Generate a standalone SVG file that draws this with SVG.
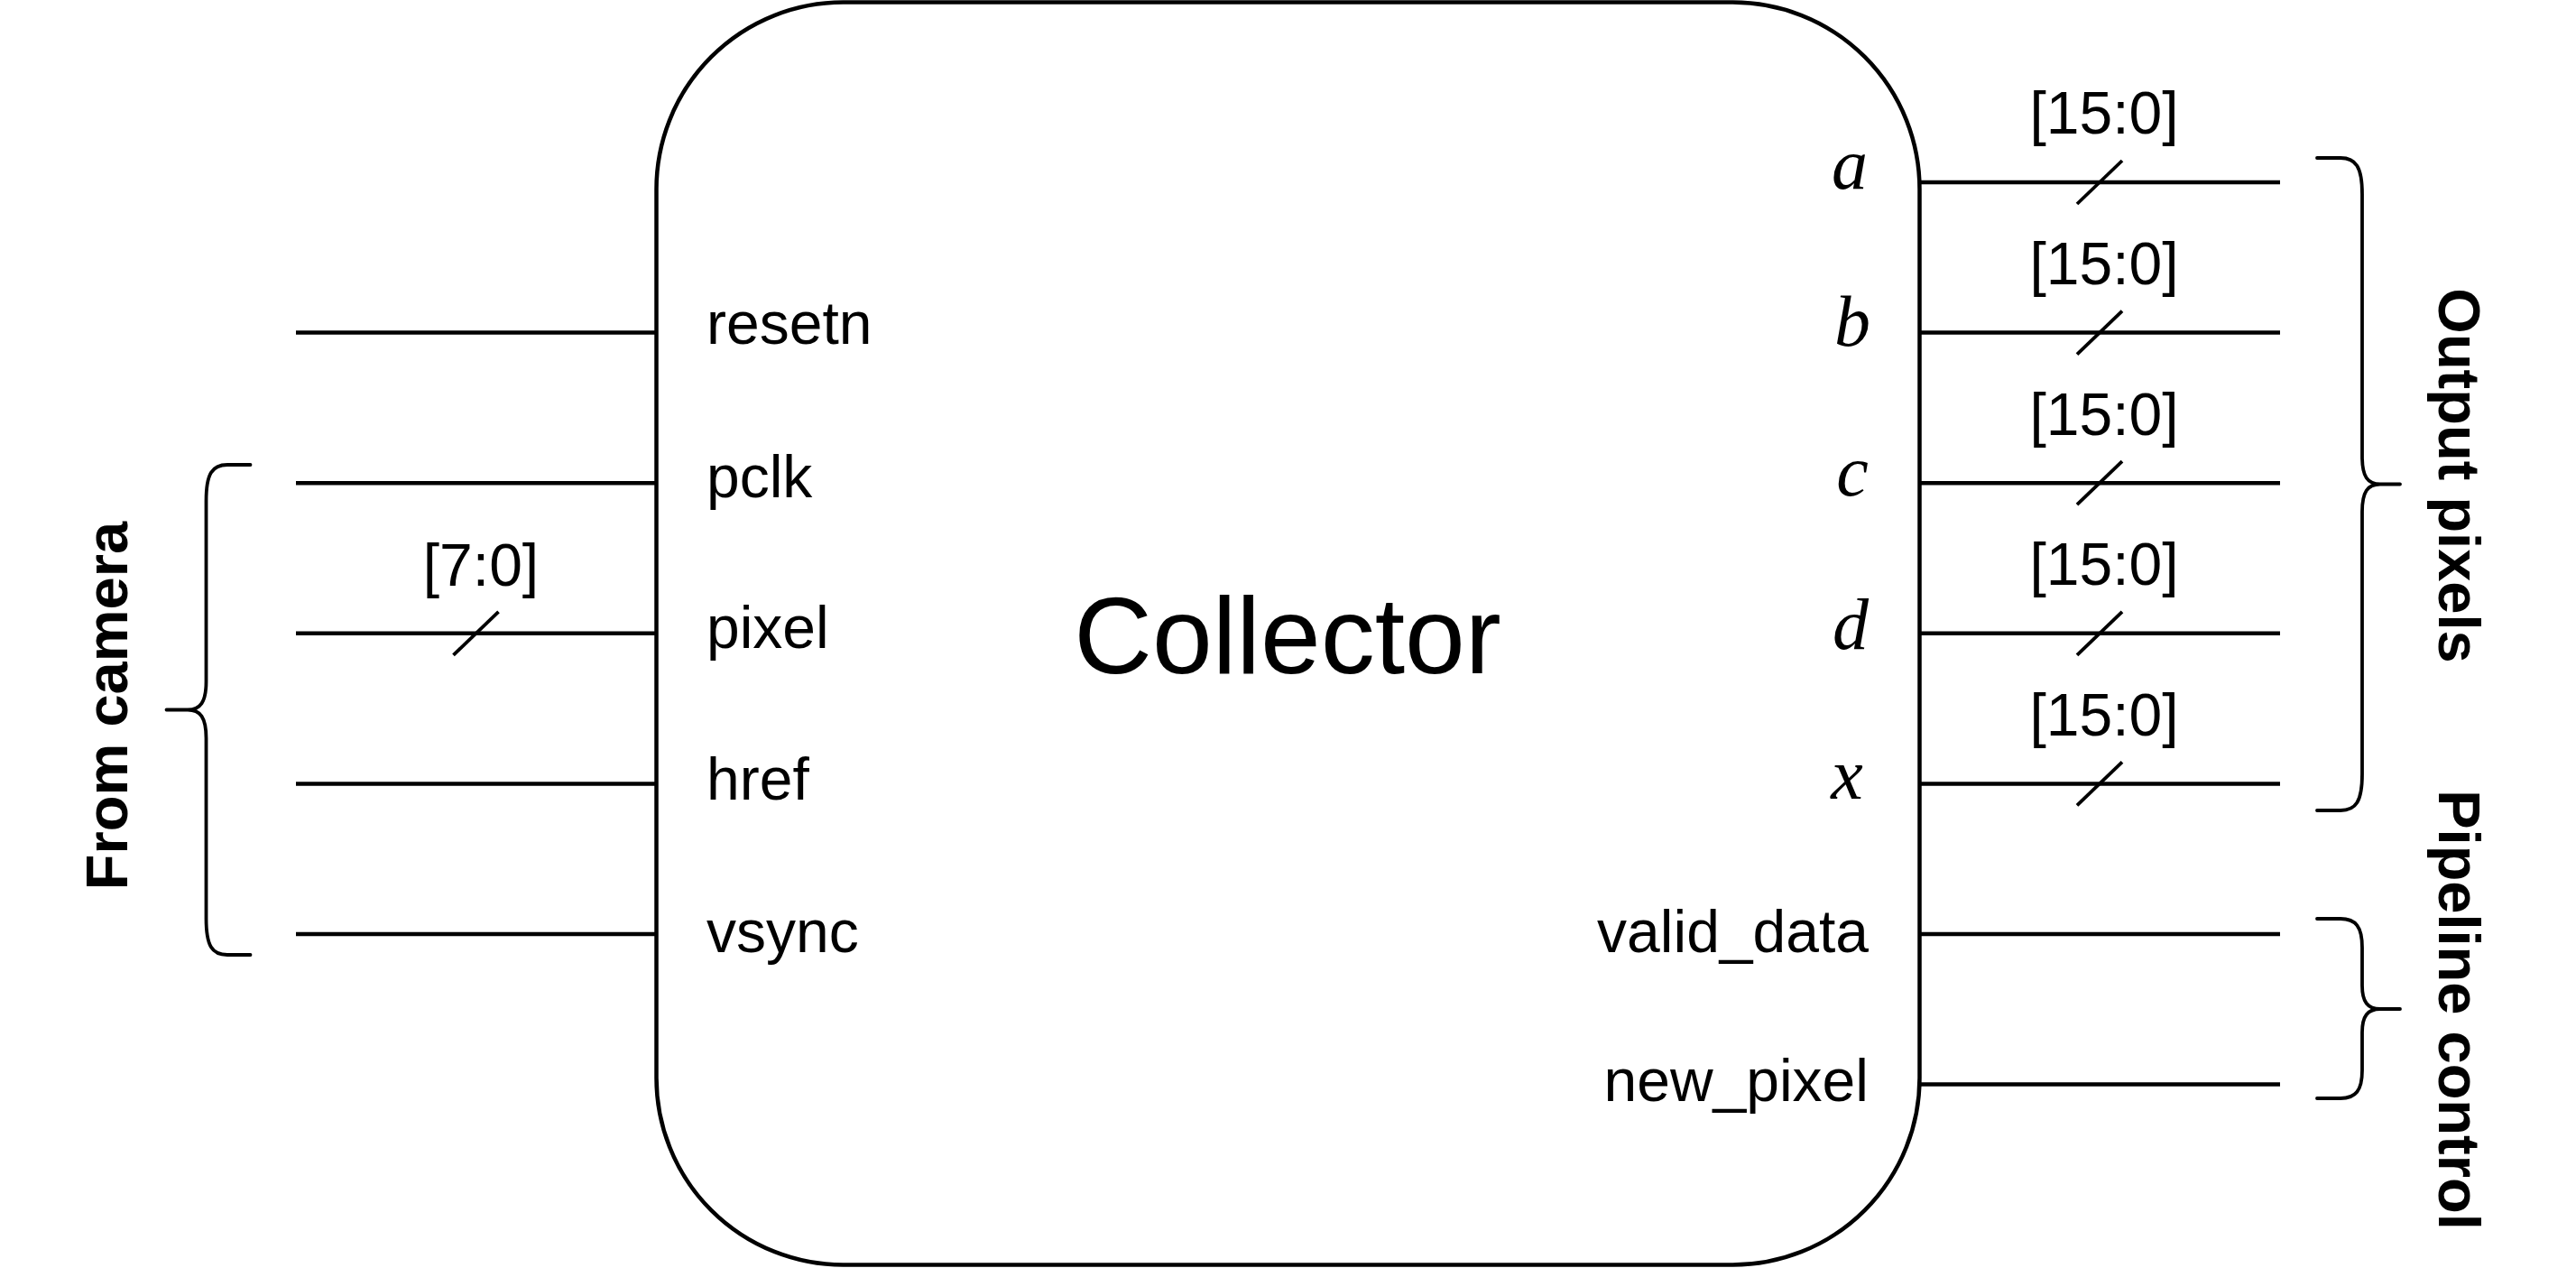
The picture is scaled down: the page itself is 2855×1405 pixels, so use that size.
<svg xmlns="http://www.w3.org/2000/svg" width="2855" height="1405" viewBox="0 0 2855 1405">
<style>
.wire{stroke:#000;stroke-width:4.5;fill:none}
.slash{stroke:#000;stroke-width:3.8;fill:none}
.brace{stroke:#000;stroke-width:3.8;fill:none;stroke-linejoin:round;stroke-linecap:round}
.lbl{font-family:"Liberation Sans",Arial,sans-serif;font-size:66px;fill:#000}
.bus{font-family:"Liberation Sans",Arial,sans-serif;font-size:66px;fill:#000;text-anchor:middle}
.math{font-family:"Liberation Serif","Times New Roman",serif;font-style:italic;font-size:80px;fill:#000;text-anchor:middle}
.grp{font-family:"Liberation Sans",Arial,sans-serif;font-size:65px;font-weight:bold;fill:#000;text-anchor:middle}
</style>
<rect width="2855" height="1405" fill="#fff"/>
<g id="collector">
<rect x="727.5" y="2.5" width="1400" height="1399" rx="207" ry="207" fill="#fff" stroke="#000" stroke-width="4.5"/>
<text x="1427" y="746" font-family="'Liberation Sans',Arial,sans-serif" font-size="120" text-anchor="middle">Collector</text>
<text class="lbl" x="783" y="381">resetn</text>
<text class="lbl" x="783" y="551">pclk</text>
<text class="lbl" x="783" y="718">pixel</text>
<text class="lbl" x="783" y="886">href</text>
<text class="lbl" x="783" y="1055">vsync</text>
<text class="math" x="2050" y="209">a</text>
<text class="math" x="2053" y="383">b</text>
<text class="math" x="2053" y="549">c</text>
<text class="math" x="2051" y="719">d</text>
<text class="math" x="2047" y="885">x</text>
<text class="lbl" x="2071" y="1055" text-anchor="end">valid_data</text>
<text class="lbl" x="2071" y="1220" text-anchor="end">new_pixel</text>
</g>
<g id="connectors">
<line class="wire" x1="328" y1="368.6" x2="727.5" y2="368.6"/>
<line class="wire" x1="328" y1="535.2" x2="727.5" y2="535.2"/>
<line class="wire" x1="328" y1="701.8" x2="727.5" y2="701.8"/>
<line class="wire" x1="328" y1="868.4" x2="727.5" y2="868.4"/>
<line class="wire" x1="328" y1="1035" x2="727.5" y2="1035"/>
<line class="slash" x1="502.5" y1="725.8" x2="552.5" y2="677.8"/>
<text class="bus" x="533" y="649">[7:0]</text>
<line class="wire" x1="2127.5" y1="202" x2="2527" y2="202"/>
<line class="wire" x1="2127.5" y1="368.6" x2="2527" y2="368.6"/>
<line class="wire" x1="2127.5" y1="535.2" x2="2527" y2="535.2"/>
<line class="wire" x1="2127.5" y1="701.8" x2="2527" y2="701.8"/>
<line class="wire" x1="2127.5" y1="868.4" x2="2527" y2="868.4"/>
<line class="wire" x1="2127.5" y1="1035" x2="2527" y2="1035"/>
<line class="wire" x1="2127.5" y1="1201.6" x2="2527" y2="1201.6"/>
<line class="slash" x1="2302" y1="226" x2="2352" y2="178"/>
<line class="slash" x1="2302" y1="392.6" x2="2352" y2="344.6"/>
<line class="slash" x1="2302" y1="559.2" x2="2352" y2="511.2"/>
<line class="slash" x1="2302" y1="725.8" x2="2352" y2="677.8"/>
<line class="slash" x1="2302" y1="892.4" x2="2352" y2="844.4"/>
<text class="bus" x="2332" y="148">[15:0]</text>
<text class="bus" x="2332" y="315">[15:0]</text>
<text class="bus" x="2332" y="482">[15:0]</text>
<text class="bus" x="2332" y="648">[15:0]</text>
<text class="bus" x="2332" y="815">[15:0]</text>
</g>
<g id="from-camera">
<path class="brace" d="M 277.5 515 L 252 515 C 235 515 228.5 525 228.5 555 L 228.5 755 C 228.5 778 222 786.5 208 786.5 L 184.5 786.5 M 208 786.5 C 222 786.5 228.5 795 228.5 818 L 228.5 1018 C 228.5 1048 235 1058 252 1058 L 277.5 1058"/>
<text class="grp" font-size="64" transform="translate(141,782) rotate(-90)">From camera</text>
</g>
<g id="output-pixels">
<path class="brace" d="M 2568 175 L 2594 175 C 2611 175 2618 185 2618 215 L 2618 506 C 2618 528 2624 536.5 2638 536.5 L 2660 536.5 M 2638 536.5 C 2624 536.5 2618 545 2618 567 L 2618 858 C 2618 888 2611 898 2594 898 L 2568 898"/>
<text class="grp" transform="translate(2703,527) rotate(90)">Output pixels</text>
</g>
<g id="pipeline-control">
<path class="brace" d="M 2568 1018 L 2594 1018 C 2611 1018 2618 1027 2618 1050 L 2618 1092 C 2618 1110 2624 1118 2638 1118 L 2660 1118 M 2638 1118 C 2624 1118 2618 1126 2618 1144 L 2618 1186 C 2618 1208 2611 1217 2594 1217 L 2568 1217"/>
<text class="grp" transform="translate(2703,1119) rotate(90)">Pipeline control</text>
</g>
</svg>
